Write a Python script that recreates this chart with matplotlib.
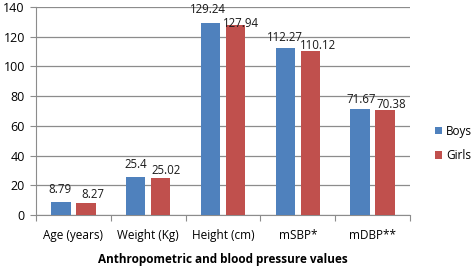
import matplotlib.pyplot as plt
import numpy as np

categories = ["Age (years)", "Weight (Kg)", "Height (cm)", "mSBP*", "mDBP**"]
boys = [8.79, 25.4, 129.24, 112.27, 71.67]
girls = [8.27, 25.02, 127.94, 110.12, 70.38]
boys_labels = ["8.79", "25.4", "129.24", "112.27", "71.67"]
girls_labels = ["8.27", "25.02", "127.94", "110.12", "70.38"]

# label offsets from bar top centre, in pixels (as placed in the original)
boys_dx = [-1, 0.5, -2.5, -0.5, 1.5]
boys_dy = [9, 9, 10, 7, 5.5]
girls_dx = [6.5, 5.5, 5.5, 8, 6.5]
girls_dy = [4.5, 4, -2, 2.4, 2.4]

plt.rcParams['font.family'] = ['Open Sans', 'DejaVu Sans']
PX = 72 / 100  # pixels -> points at dpi 100

fig = plt.figure(figsize=(4.72, 2.74), dpi=100)
ax = fig.add_axes([36 / 472, 1 - 215 / 274, (410 - 36) / 472, (215 - 7) / 274])

x = np.arange(len(categories))
w = 0.26
gap = 0.075
off = (w + gap) / 2
b1 = ax.bar(x - off, boys, w, color="#4F81BD", label="Boys", zorder=3)
b2 = ax.bar(x + off, girls, w, color="#C0504D", label="Girls", zorder=3)

for rects, labs, dxs, dys in [(b1, boys_labels, boys_dx, boys_dy),
                              (b2, girls_labels, girls_dx, girls_dy)]:
    for rect, lab, dx, dy in zip(rects, labs, dxs, dys):
        ax.annotate(lab, (rect.get_x() + rect.get_width() / 2, rect.get_height()),
                    xytext=(dx * PX, dy * PX), textcoords="offset points",
                    ha="center", va="baseline", fontsize=8.3, color="#1a1a1a",
                    zorder=4)

ax.set_xlim(-0.5, len(categories) - 0.5)
ax.set_ylim(0, 140)
ax.set_yticks(range(0, 141, 20))
ax.yaxis.grid(True, color="#8c8c8c", linewidth=0.9, zorder=0)
ax.set_axisbelow(True)

# category boundary ticks on x axis
ax.set_xticks(np.arange(-0.5, len(categories), 1.0))
ax.set_xticklabels([])
ax.set_xticks(x, minor=True)
ax.set_xticklabels(categories, minor=True, fontsize=8.5)
ax.tick_params(axis="x", which="minor", length=0, pad=10)
ax.tick_params(axis="x", which="major", length=4, color="#8c8c8c")
ax.tick_params(axis="y", length=4, color="#8c8c8c", labelsize=9, pad=4)

for s in ["top", "right"]:
    ax.spines[s].set_visible(False)
for s in ["left", "bottom"]:
    ax.spines[s].set_color("#8c8c8c")

ax.set_xlabel("Anthropometric and blood pressure values", fontsize=8.5,
              fontweight="bold", labelpad=8)

fig.legend(loc="upper left", bbox_to_anchor=(430 / 472, 1 - 120 / 274),
           frameon=False, fontsize=8.5, handlelength=0.6, handleheight=0.6,
           handletextpad=0.35, labelspacing=0.95, borderaxespad=0)

fig.savefig("out.png", dpi=100)
